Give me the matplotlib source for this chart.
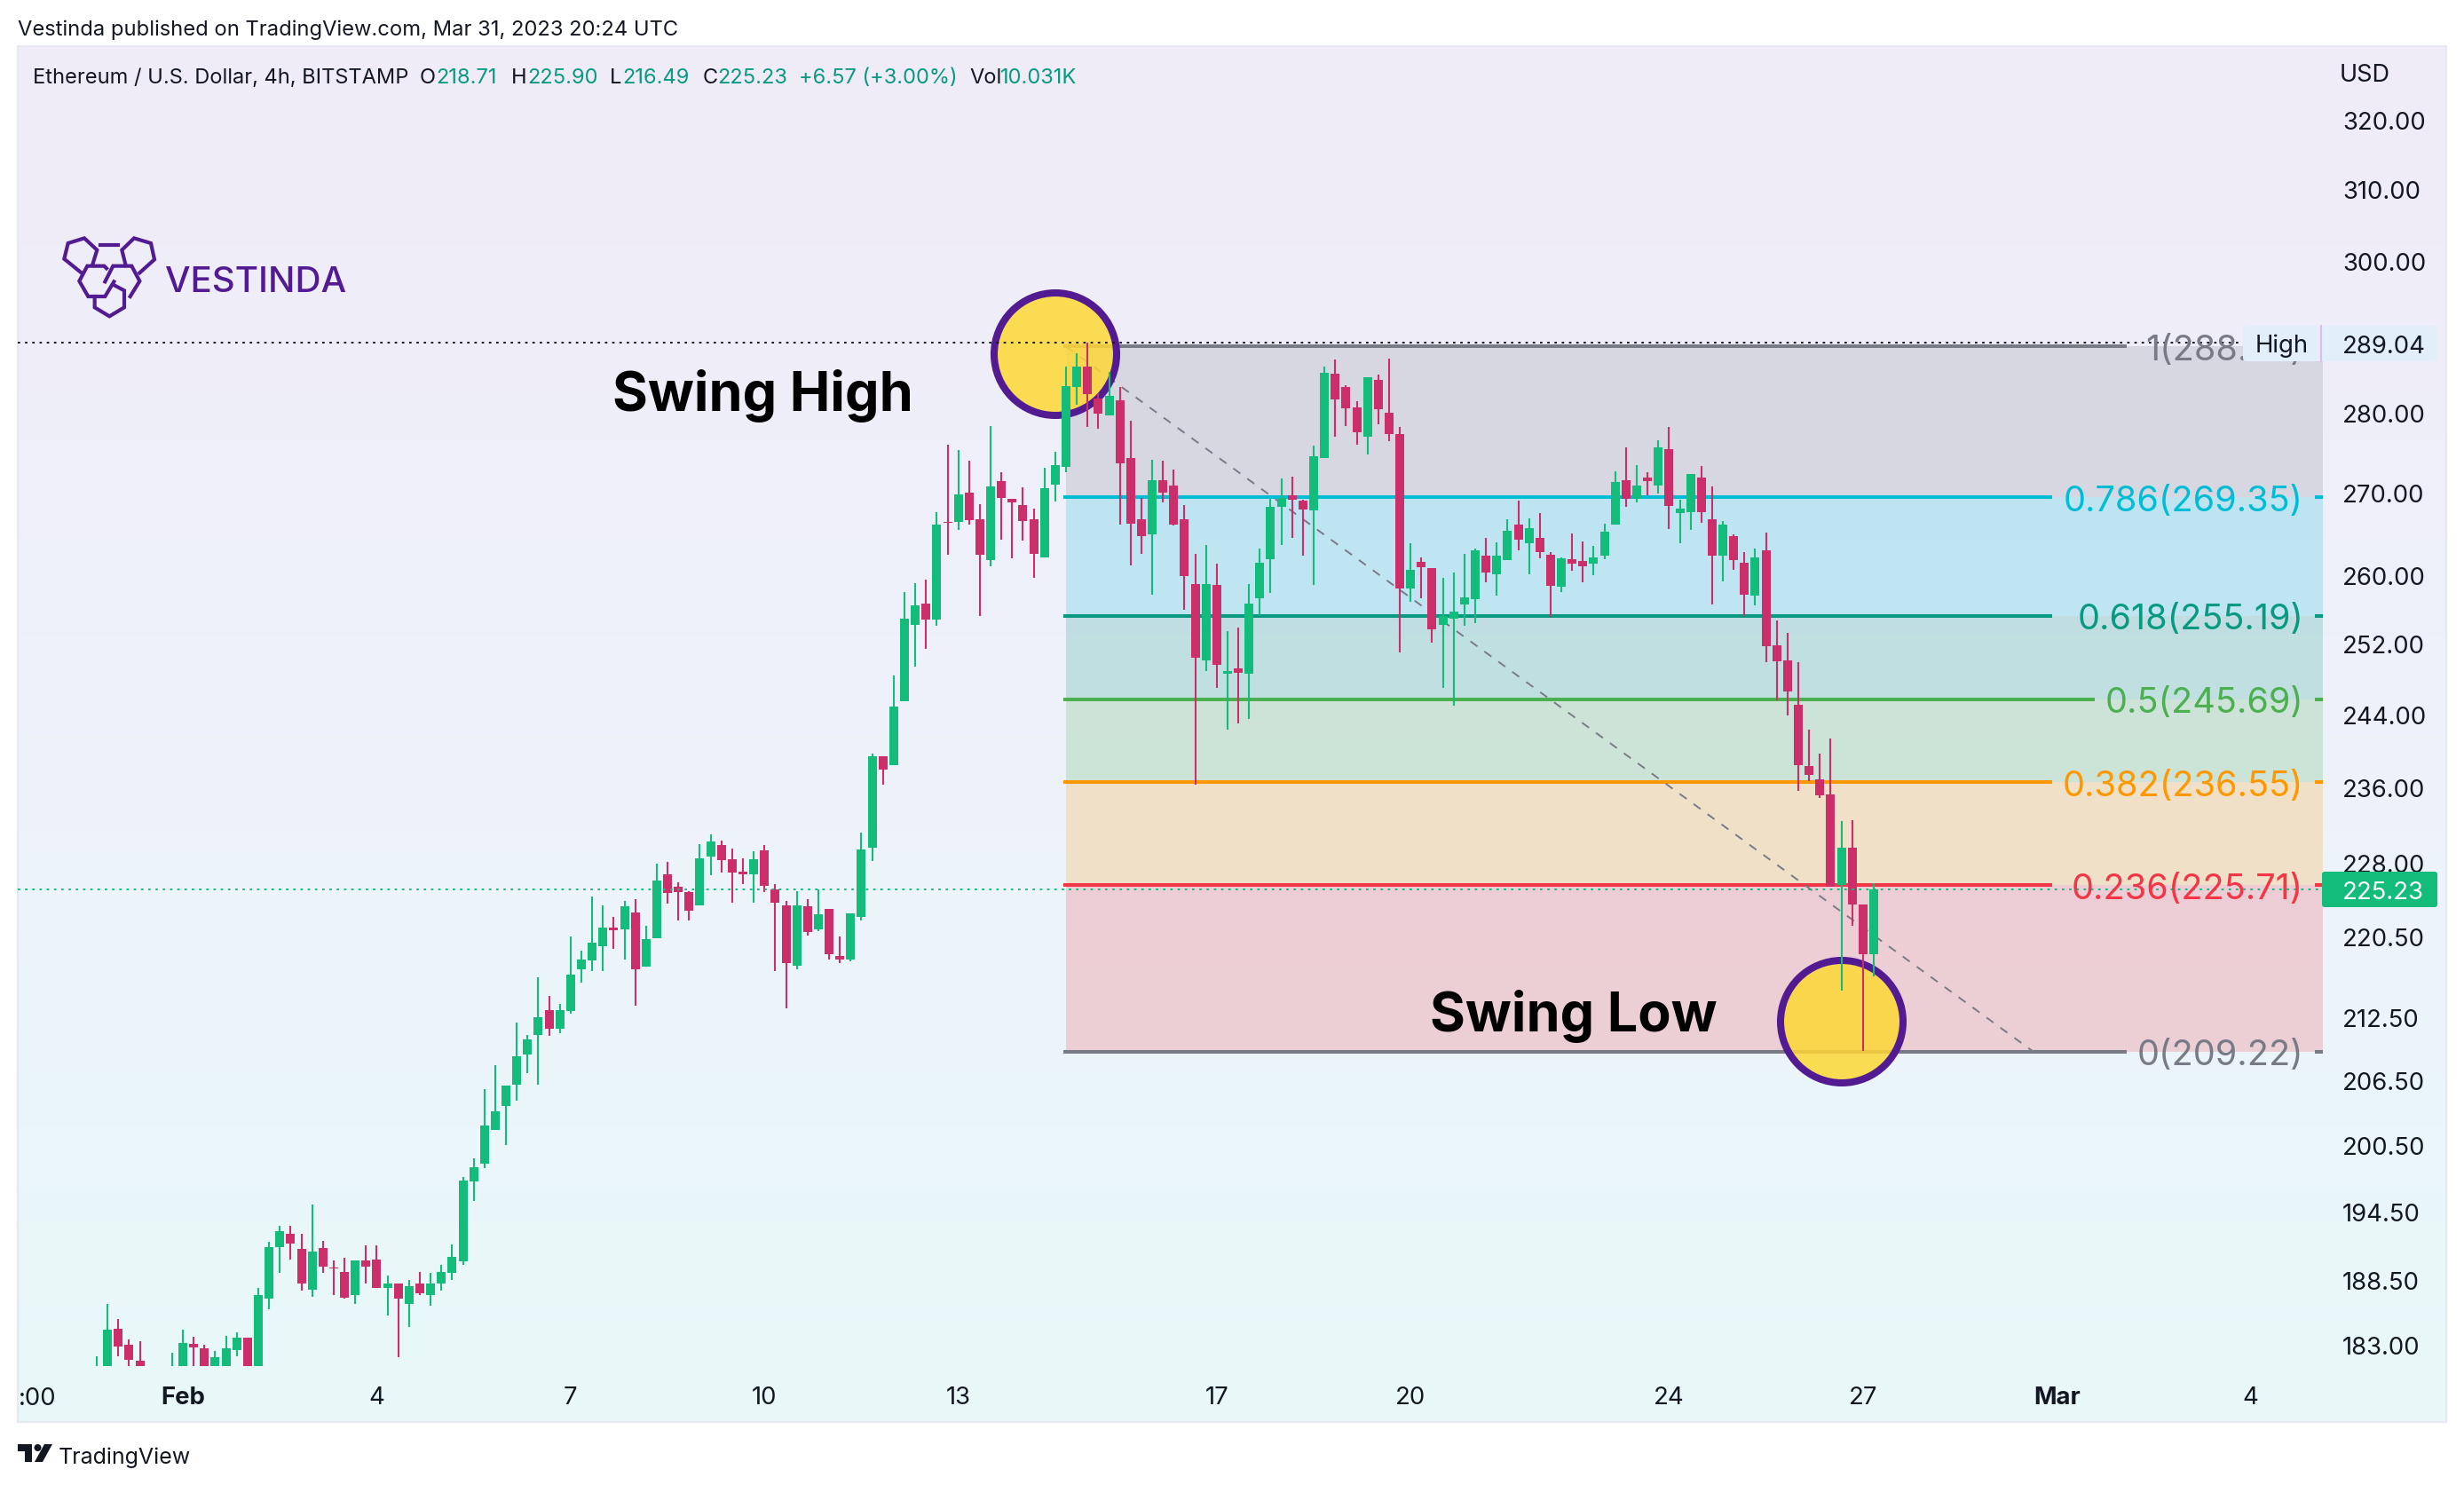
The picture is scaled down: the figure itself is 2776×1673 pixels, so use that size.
import numpy as np
import matplotlib

matplotlib.use("Agg")
import matplotlib.pyplot as plt
from matplotlib.patches import Ellipse, FancyBboxPatch, Polygon, Circle, Rectangle

plt.rcParams["font.family"] = ["Inter", "DejaVu Sans"]

W, H = 2776, 1674

opens = [178.5, 179.5, 184.4, 183.0, 181.7, 179.8, 178.5, 179.8, 180.8, 183.1,
         182.7, 180.2, 180.9, 182.6, 183.6, 180.9, 186.9, 191.4, 192.5, 191.2,
         187.7, 191.3, 189.6, 189.2, 187.2, 190.2, 190.3, 187.8, 188.2, 186.5,
         188.2, 187.2, 188.2, 189.1, 190.1, 197.2, 198.8, 201.9, 204.1, 206.1,
         208.9, 210.8, 213.2, 211.4, 213.1, 217.2, 218.1, 219.5, 221.4, 221.2,
         222.9, 217.5, 220.3, 226.8, 225.5, 225.0, 223.6, 228.7, 229.9, 228.4,
         227.1, 226.8, 229.3, 225.3, 223.6, 217.6, 223.5, 221.2, 223.3, 218.5,
         218.2, 222.5, 229.6, 239.4, 238.4, 245.5, 254.1, 256.6, 254.8, 266.4,
         266.4, 269.9, 266.7, 261.8, 271.4, 269.2, 268.4, 266.7, 262.1, 270.9,
         273.1, 283.3, 285.9, 281.8, 279.6, 281.5, 274.2, 266.7, 264.9, 271.5,
         270.8, 266.7, 258.9, 250.1, 258.8, 248.6, 249.2, 248.6, 257.2, 261.9,
         268.2, 269.6, 269.0, 267.8, 274.2, 285.0, 283.3, 280.6, 276.9, 284.2,
         280.0, 277.2, 258.4, 261.6, 260.8, 254.1, 254.9, 256.5, 257.1, 262.3,
         260.1, 261.8, 266.0, 263.8, 264.4, 262.4, 258.6, 261.9, 261.7, 261.3,
         262.3, 266.0, 271.5, 269.2, 271.8, 270.8, 275.4, 267.4, 267.6, 271.8,
         266.7, 262.3, 264.6, 261.5, 257.6, 262.9, 251.8, 250.1, 245.1, 238.3,
         236.9, 235.2, 225.7, 229.6, 223.7, 218.71]
highs = [182.1, 186.5, 185.2, 183.5, 183.3, 180.8, 180.5, 182.4, 184.3, 183.7,
         183.0, 182.5, 183.8, 184.1, 183.6, 187.8, 191.8, 193.2, 193.2, 192.5,
         195.1, 191.9, 190.2, 190.4, 190.2, 191.5, 191.5, 188.9, 188.2, 188.5,
         189.2, 189.1, 189.8, 191.6, 197.6, 199.3, 205.7, 207.9, 206.0, 212.0,
         210.8, 216.4, 214.6, 213.8, 220.5, 219.1, 224.5, 223.6, 222.5, 224.1,
         224.3, 221.6, 227.9, 228.1, 226.0, 225.1, 230.0, 231.0, 230.3, 229.5,
         228.5, 229.2, 229.9, 225.8, 224.1, 225.1, 224.3, 225.3, 223.3, 220.5,
         222.8, 231.2, 239.7, 239.4, 248.3, 258.0, 259.0, 259.4, 267.6, 275.9,
         275.2, 273.9, 268.5, 278.3, 272.5, 269.2, 270.6, 268.0, 273.0, 275.0,
         285.9, 287.7, 289.04, 282.5, 285.2, 283.3, 278.9, 269.3, 274.0, 273.9,
         272.8, 268.4, 262.5, 263.6, 261.3, 253.4, 253.8, 258.9, 263.1, 269.2,
         271.7, 271.9, 269.1, 275.8, 285.9, 286.8, 283.5, 281.4, 284.5, 284.9,
         287.0, 278.2, 263.8, 262.1, 260.8, 259.7, 260.3, 262.5, 263.2, 264.4,
         263.9, 266.7, 269.0, 266.8, 267.4, 262.7, 262.1, 265.0, 264.0, 263.5,
         266.2, 272.6, 275.6, 273.4, 272.5, 276.5, 278.2, 269.1, 272.3, 273.2,
         270.7, 266.5, 264.9, 262.7, 263.2, 265.1, 254.7, 253.2, 249.9, 242.3,
         239.7, 241.3, 232.4, 232.5, 223.7, 225.90]
lows = [177.5, 179.0, 182.1, 180.9, 179.6, 178.5, 178.0, 179.5, 180.0, 180.6,
        180.2, 179.8, 180.5, 182.1, 180.5, 180.5, 186.0, 189.1, 190.3, 187.6,
        187.1, 189.1, 187.2, 186.9, 186.5, 188.2, 187.8, 185.5, 182.0, 184.5,
        187.2, 186.3, 187.6, 188.5, 189.8, 195.4, 198.4, 201.9, 200.5, 204.6,
        207.2, 206.1, 210.7, 211.0, 212.9, 215.9, 217.0, 217.0, 219.2, 218.2,
        213.6, 217.5, 220.3, 223.8, 222.1, 222.1, 223.6, 226.7, 227.0, 223.9,
        225.8, 223.9, 225.0, 217.0, 213.4, 217.2, 220.6, 221.0, 218.2, 217.8,
        218.0, 222.1, 228.2, 236.3, 238.4, 245.5, 249.4, 251.4, 254.0, 262.4,
        265.4, 266.0, 255.2, 261.0, 264.2, 262.0, 264.1, 259.7, 262.1, 268.9,
        272.5, 281.0, 278.1, 277.9, 279.6, 266.0, 261.1, 262.5, 257.7, 268.8,
        265.9, 255.9, 236.3, 248.9, 246.9, 242.3, 243.0, 243.5, 255.3, 257.9,
        263.6, 264.4, 262.3, 258.8, 274.2, 276.9, 278.3, 275.9, 274.7, 278.5,
        276.4, 251.0, 256.8, 257.3, 252.1, 246.9, 245.0, 254.0, 254.4, 259.1,
        257.6, 261.8, 262.9, 260.1, 262.0, 255.1, 258.0, 260.5, 259.1, 260.0,
        261.9, 266.0, 268.2, 268.7, 269.6, 269.8, 265.5, 263.8, 265.4, 266.3,
        256.5, 259.2, 260.6, 255.2, 256.4, 249.9, 245.6, 243.9, 235.6, 236.7,
        234.9, 225.5, 215.1, 221.6, 209.3, 216.49]
closes = [180.5, 184.3, 182.9, 181.8, 180.6, 179.0, 180.0, 180.9, 183.2, 182.8,
          180.9, 182.0, 182.7, 183.6, 180.9, 187.2, 191.4, 192.8, 191.7, 188.2,
          191.0, 189.7, 189.5, 187.0, 190.2, 189.7, 187.8, 188.2, 186.9, 188.0,
          187.4, 188.2, 189.2, 190.5, 197.3, 198.5, 202.3, 203.6, 206.0, 208.8,
          210.4, 212.5, 211.4, 213.2, 216.7, 218.2, 219.9, 221.4, 221.1, 223.5,
          217.2, 220.2, 226.2, 224.9, 225.0, 223.1, 228.5, 230.2, 228.3, 227.0,
          226.8, 228.4, 225.6, 223.9, 217.8, 223.6, 220.9, 222.7, 218.7, 218.2,
          222.8, 229.4, 239.4, 237.9, 244.9, 254.9, 256.4, 254.8, 266.0, 266.3,
          269.7, 266.6, 262.4, 270.7, 269.3, 268.7, 266.5, 262.5, 270.5, 273.3,
          283.4, 285.9, 282.4, 279.8, 282.1, 273.6, 266.2, 264.6, 271.5, 269.9,
          266.0, 259.9, 250.4, 258.9, 249.6, 248.9, 248.7, 256.6, 261.4, 268.2,
          269.3, 269.1, 267.9, 274.5, 285.1, 281.7, 280.5, 277.5, 284.5, 280.4,
          277.2, 258.4, 260.6, 260.9, 253.6, 255.2, 255.7, 257.4, 262.9, 260.3,
          262.3, 265.3, 264.2, 265.6, 262.7, 258.7, 262.0, 261.3, 261.0, 262.1,
          265.2, 271.3, 269.2, 270.8, 271.4, 275.6, 268.3, 268.0, 272.3, 267.5,
          262.3, 266.0, 261.8, 257.7, 262.1, 251.7, 250.0, 246.5, 238.4, 237.3,
          235.1, 225.5, 229.6, 223.7, 218.7, 225.23]

fib_ratios = ["1", "0.786", "0.618", "0.5", "0.382", "0.236", "0"]
fib_prices = [288.55, 269.35, 255.19, 245.69, 236.55, 225.71, 209.22]
fib_colors = ["#787b86", "#00bcd4", "#089981", "#4caf50", "#ff9800", "#f23645", "#787b86"]
fib_line_ends = [188.5, 181.6, 181.6, 185.5, 181.6, 181.6, 188.5]

price_ticks = [320, 310, 300, 280, 270, 260, 252, 244, 236, 228, 220.5, 212.5, 206.5, 200.5, 194.5, 188.5, 183]
time_ticks = [8, 26, 44, 62, 80, 104, 122, 146, 164, 182, 200]
time_labels = ["Feb", "4", "7", "10", "13", "17", "20", "24", "27", "Mar", "4"]

high_price = 289.04
last_price = 225.23

UP = "#13bc7b"
DOWN = "#cc2e69"
PURPLE = "#521b92"
DARK = "#131722"
TEAL = "#089981"

fig = plt.figure(figsize=(W / 100, H / 100), dpi=100, facecolor="white")

# pixel space axes for the pane background and the decorations
bg = fig.add_axes([0, 0, 1, 1], zorder=0)
bg.set_xlim(0, W)
bg.set_ylim(H, 0)
bg.axis("off")
stops = np.array([[240, 235, 247], [238, 242, 250], [232, 249, 249]]) / 255
t = np.linspace(0, 1, 400)
grad = np.stack([np.interp(t, [0, 0.5, 1], stops[:, k]) for k in range(3)], axis=1)[:, None, :]
bg.imshow(grad, extent=[20, 2756, 1603, 53], aspect="auto", zorder=0)
bg.set_xlim(0, W)
bg.set_ylim(H, 0)
bg.add_patch(Rectangle((20, 53), 2736, 1550, fill=False, ec="#e6e8f2", lw=1.6, zorder=1))

bg.text(20, 31, "Vestinda published on TradingView.com, Mar 31, 2023 20:24 UTC",
        fontsize=17.1, color=DARK, va="center_baseline")

legend_parts = [
    (37, "Ethereum / U.S. Dollar, 4h, BITSTAMP", DARK), (473, "O", DARK), (491, "218.71", TEAL),
    (576, "H", DARK), (594, "225.90", TEAL), (687, "L", DARK), (701, "216.49", TEAL),
    (792, "C", DARK), (808, "225.23", TEAL), (900, "+6.57 (+3.00%)", TEAL),
    (1092, "Vol", DARK), (1127, "10.031K", TEAL),
]
for x_pos, label, col in legend_parts:
    bg.text(x_pos, 85, label, fontsize=17.0, color=col, va="center_baseline")

bg.text(2636, 82, "USD", fontsize=19.5, color=DARK, va="center_baseline")
bg.text(21, 1573, ":00", fontsize=19.8, color=DARK, va="center_baseline")

# logo
logo_paths = [
    [(155, 205), (97, 158), (110, 105), (165, 88), (208, 128), (192, 180)],
    [(352, 205), (402, 160), (390, 105), (333, 88), (292, 128), (305, 180)],
    [(218, 112), (280, 112)],
    [(240, 190), (232, 182), (175, 182), (148, 233), (178, 285), (235, 285), (265, 235)],
    [(235, 235), (262, 182), (325, 182), (352, 233), (320, 285)],
    [(200, 285), (200, 322), (250, 352), (300, 322), (300, 265), (268, 248)],
]
for path in logo_paths:
    xy = np.array(path) / 3 + np.array([40, 240])
    bg.plot(xy[:, 0], xy[:, 1], color=PURPLE, lw=3.0, solid_joinstyle="miter", zorder=2)
bg.text(186, 314, "VESTINDA", fontsize=29, color=PURPLE, fontweight="medium", va="center_baseline")

# TradingView mark
bg.add_patch(Polygon([(20, 1628), (36, 1628), (36, 1648), (28, 1648), (28, 1636), (20, 1636)], fc=DARK, ec="none"))
bg.add_patch(Circle((42.5, 1632), 4, fc=DARK, ec="none"))
bg.add_patch(Polygon([(50, 1628), (59, 1628), (48, 1648), (39, 1648)], fc=DARK, ec="none"))
bg.text(66, 1640, "TradingView", fontsize=18, color=DARK, va="center_baseline")

# price chart
ax_l, ax_r, ax_t, ax_b = 20, 2617, 53, 1540
ax = fig.add_axes([ax_l / W, 1 - ax_b / H, (ax_r - ax_l) / W, (ax_b - ax_t) / H], zorder=1)
ax.patch.set_alpha(0)
for spine in ax.spines.values():
    spine.set_visible(False)
ax.set_yscale("log")
ax.set_ylim(181.26, 330.9)
ax.set_xlim((ax_l - 109) / 12.133, (ax_r - 109) / 12.133)
x_max = ax.get_xlim()[1]


def frac(px, py):
    return (px - ax_l) / (ax_r - ax_l), (ax_b - py) / (ax_b - ax_t)


ax.set_yticks(price_ticks)
ax.set_yticklabels([f"{p:.2f}" for p in price_ticks])
ax.yaxis.set_minor_locator(matplotlib.ticker.NullLocator())
ax.yaxis.set_minor_formatter(matplotlib.ticker.NullFormatter())
ax.yaxis.tick_right()
ax.tick_params(axis="y", length=0, pad=15.8, labelsize=19.8, labelcolor=DARK)
ax.set_xticks(time_ticks)
ax.set_xticklabels(time_labels)
ax.tick_params(axis="x", length=0, pad=15.5, labelsize=19.8, labelcolor=DARK)
for lab in ax.get_xticklabels():
    if lab.get_text() in ("Feb", "Mar"):
        lab.set_fontweight("bold")

# fib retracement
for k in range(len(fib_prices) - 1):
    ax.fill_between([90, x_max], fib_prices[k + 1], fib_prices[k], color=fib_colors[k], alpha=0.2, lw=0, zorder=1)
for price, ratio, col, end in zip(fib_prices, fib_ratios, fib_colors, fib_line_ends):
    ax.hlines(price, 89.75, end, color=col, lw=2.9, zorder=2)
    ax.hlines(price, 206, x_max, color=col, lw=2.9, zorder=2)
    ax.text(204.9, price, f"{ratio}({price:.2f})", color=col, fontsize=28.5, ha="right",
            va="center_baseline", zorder=6)
ax.plot([90, 179.8], [fib_prices[0], fib_prices[-1]], color="#787b86", lw=1.4,
        dashes=(5, 5), zorder=2.5)

# swing circles
for cx, cy in [(1189, 400), (2075, 1152)]:
    fx, fy = frac(cx, cy)
    ax.add_patch(Ellipse((fx, fy), 138 / (ax_r - ax_l), 138 / (ax_b - ax_t), transform=ax.transAxes,
                         fc="#fdd835", alpha=0.85, ec="none", zorder=3))
    ax.add_patch(Ellipse((fx, fy), 138 / (ax_r - ax_l), 138 / (ax_b - ax_t), transform=ax.transAxes,
                         fc="none", ec=PURPLE, lw=5.8, zorder=3.1))

# candles
x = np.arange(len(opens))
o = np.array(opens)
c = np.array(closes)
colors = [UP if cl >= op else DOWN for op, cl in zip(opens, closes)]
ax.vlines(x, lows, highs, colors=colors, lw=1.5, zorder=4)
ax.bar(x, np.abs(c - o), bottom=np.minimum(o, c), width=0.824, color=colors, lw=0, zorder=4)

# high and last price lines
ax.hlines(high_price, ax.get_xlim()[0], 199.4, color=DARK, lw=1.4, linestyles=(0, (1.4, 2.8)), zorder=5)
ax.hlines(last_price, ax.get_xlim()[0], x_max, color=UP, lw=1.4, linestyles=(0, (1.4, 2.8)), zorder=5)

fx, fy = frac(859.5, 446)
ax.text(fx, fy, "Swing High", transform=ax.transAxes, fontsize=44, fontweight="bold",
        color="black", ha="center", va="center", zorder=7)
fx, fy = frac(1773, 1145)
ax.text(fx, fy, "Swing Low", transform=ax.transAxes, fontsize=44, fontweight="bold",
        color="black", ha="center", va="center", zorder=7)

# price scale badges on top of the tick labels
top = fig.add_axes([0, 0, 1, 1], zorder=2)
top.set_xlim(0, W)
top.set_ylim(H, 0)
top.axis("off")
top.patch.set_alpha(0)
top.add_patch(FancyBboxPatch((2527, 368), 219, 40, boxstyle="round,pad=0,rounding_size=4", fc="#e3eefb", ec="none"))
top.plot([2615, 2615], [368, 408], color="#e2bbe6", lw=1.5)
top.text(2571, 387, "High", fontsize=19.8, color=DARK, ha="center", va="center_baseline")
top.text(2639, 388, f"{high_price:.2f}", fontsize=19.8, color=DARK, va="center_baseline")
top.add_patch(FancyBboxPatch((2616, 983), 130, 40, boxstyle="round,pad=0,rounding_size=3", fc=UP, ec="none"))
top.text(2639, 1003, f"{last_price:.2f}", fontsize=19.8, color="white", va="center_baseline")

fig.savefig("out.png", dpi=100, facecolor="white")
